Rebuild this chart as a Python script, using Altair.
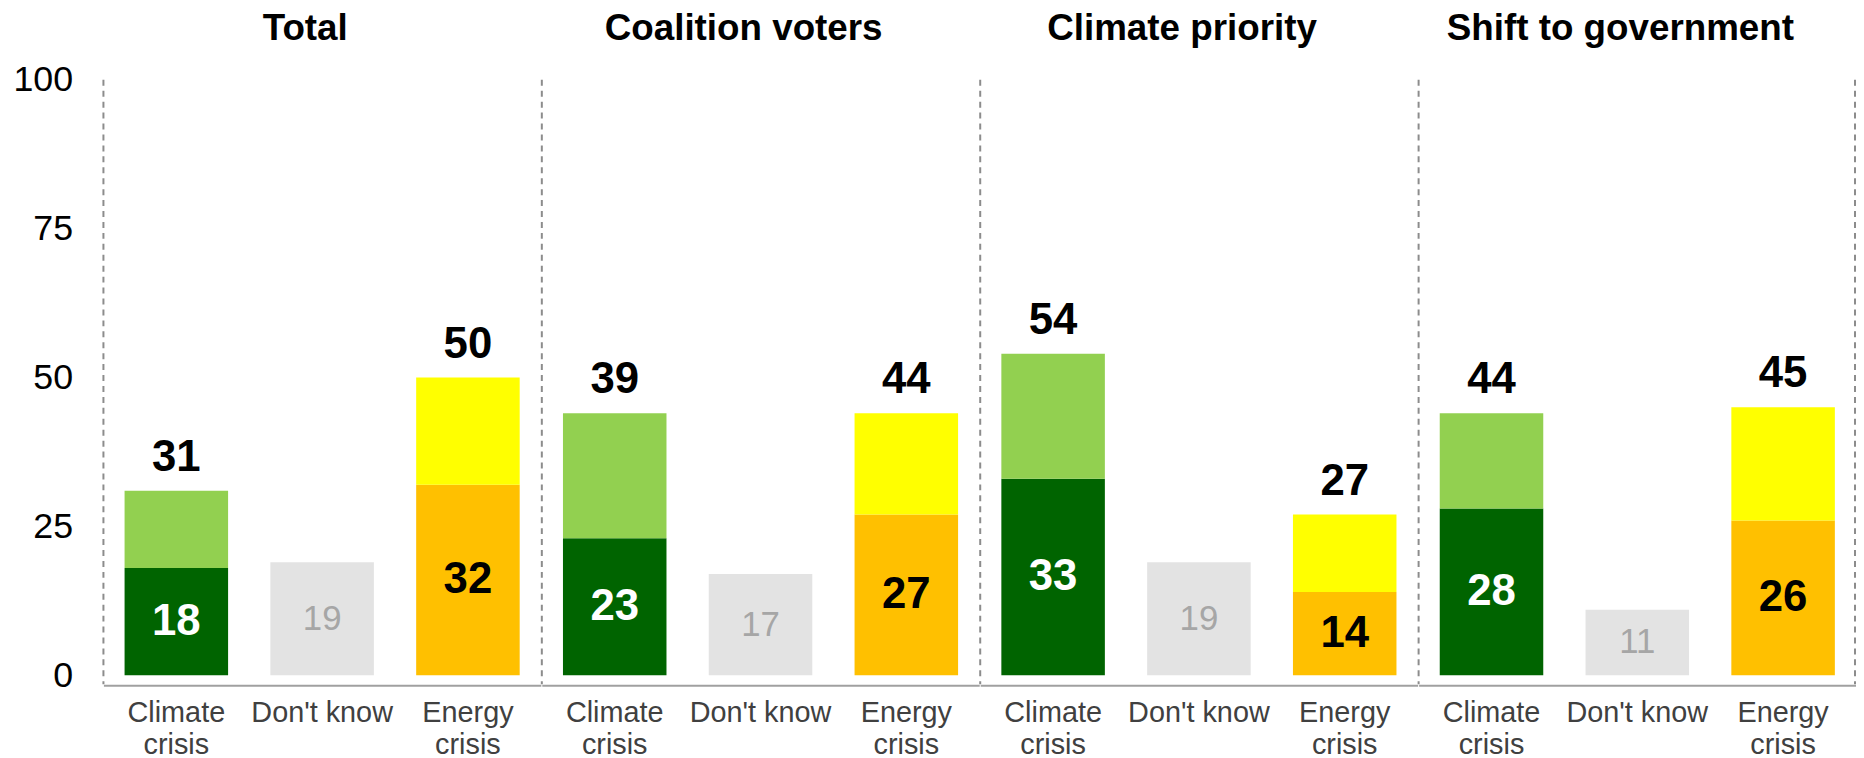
import altair as alt
import pandas as pd

groups = ["Total", "Coalition voters", "Climate priority", "Shift to government"]
categories = ["Climate crisis", "Don't know", "Energy crisis"]
climate_strong = [18, 23, 33, 28]
climate_top = [31, 44, 54, 44]
climate_label = [31, 39, 54, 44]
dont_know = [19, 17, 19, 11]
energy_strong = [32, 27, 14, 26]
energy_top = [50, 44, 27, 45]
energy_label = [50, 44, 27, 45]
y_ticks = [0, 25, 50, 75, 100]

seg_keys = ["c_strong", "c_weak", "dk", "e_strong", "e_weak"]
seg_colors = ["#006400", "#92D050", "#E3E3E3", "#FFC000", "#FFFF00"]

rows = []
for i, g in enumerate(groups):
    rows.append(dict(group=g, cat=categories[0], seg="c_strong", lo=0, hi=climate_strong[i], txt=str(climate_strong[i]), top=""))
    rows.append(dict(group=g, cat=categories[0], seg="c_weak", lo=climate_strong[i], hi=climate_top[i], txt="", top=str(climate_label[i])))
    rows.append(dict(group=g, cat=categories[1], seg="dk", lo=0, hi=dont_know[i], txt=str(dont_know[i]), top=""))
    rows.append(dict(group=g, cat=categories[2], seg="e_strong", lo=0, hi=energy_strong[i], txt=str(energy_strong[i]), top=""))
    rows.append(dict(group=g, cat=categories[2], seg="e_weak", lo=energy_strong[i], hi=energy_top[i], txt="", top=str(energy_label[i])))
df = pd.DataFrame(rows)
df["mid"] = (df["lo"] + df["hi"]) / 2

W = 440
H = 599
FONT = "Liberation Sans"

x_enc = alt.X(
    "cat:N",
    sort=categories,
    title=None,
    scale=alt.Scale(paddingInner=0.29, paddingOuter=0.145),
    axis=alt.Axis(
        labelAngle=0, ticks=False, domainColor="#A0A0A0", domainWidth=2,
        labelFont=FONT, labelFontSize=29, labelColor="#404040", labelPadding=14,
        labelLineHeight=32,
        labelExpr="indexof(datum.value, 'know') >= 0 ? datum.value : split(datum.value, ' ')",
    ),
)
y_scale = alt.Scale(domain=[0, 100], nice=False)

base = alt.Chart(df)

bars = base.mark_bar().encode(
    x=x_enc,
    y=alt.Y(
        "hi:Q", scale=y_scale, title=None,
        axis=alt.Axis(values=y_ticks, grid=False, domain=False, ticks=False,
                      labelFont=FONT, labelFontSize=36, labelColor="#000000", labelPadding=30),
    ),
    y2="lo:Q",
    color=alt.Color("seg:N", scale=alt.Scale(domain=seg_keys, range=seg_colors), legend=None),
)

inner = base.transform_filter(
    "datum.seg == 'c_strong' || datum.seg == 'e_strong'"
).mark_text(font=FONT, fontSize=44, fontWeight="bold", baseline="middle").encode(
    x=alt.X("cat:N", sort=categories),
    y=alt.Y("mid:Q", scale=y_scale),
    text="txt:N",
    color=alt.condition("datum.seg == 'c_strong'", alt.value("#FFFFFF"), alt.value("#000000")),
)

dk_label = base.transform_filter("datum.seg == 'dk'").mark_text(
    font=FONT, fontSize=35, color="#A6A6A6", baseline="middle"
).encode(
    x=alt.X("cat:N", sort=categories),
    y=alt.Y("mid:Q", scale=y_scale),
    text="txt:N",
)

top_label = base.transform_filter(
    "datum.seg == 'c_weak' || datum.seg == 'e_weak'"
).mark_text(font=FONT, fontSize=44, fontWeight="bold", baseline="alphabetic", dy=-20, color="#000000").encode(
    x=alt.X("cat:N", sort=categories),
    y=alt.Y("hi:Q", scale=y_scale),
    text="top:N",
)

panel_title = base.transform_filter("datum.seg == 'dk'").mark_text(
    font=FONT, fontSize=37, fontWeight="bold", color="#000000", baseline="alphabetic", align="center"
).encode(
    x=alt.value(W / 2 - 17), y=alt.value(-40), text="group:N"
)

left_rule = base.transform_filter("datum.seg == 'dk'").mark_rule(
    color="#8C8C8C", strokeWidth=2, strokeDash=[6, 5]
).encode(x=alt.value(0), y=alt.value(0), y2=alt.value(H + 9))

right_rule = base.transform_filter(
    "datum.seg == 'dk' && datum.group == 'Shift to government'"
).mark_rule(color="#8C8C8C", strokeWidth=2, strokeDash=[6, 5]).encode(
    x=alt.value(W - 1), y=alt.value(0), y2=alt.value(H + 9)
)

layered = alt.layer(bars, inner, dk_label, top_label, panel_title, left_rule, right_rule).properties(width=W, height=H)

chart = layered.facet(
    column=alt.Column(
        "group:N", sort=groups, title=None,
        header=alt.Header(labels=False),
    ),
    spacing=0,
).properties(
    padding={"left": 4, "top": 0, "right": 0, "bottom": 0}
).configure_view(strokeWidth=0)

chart.save("out.html", embed_options={"renderer": "svg", "actions": False})
